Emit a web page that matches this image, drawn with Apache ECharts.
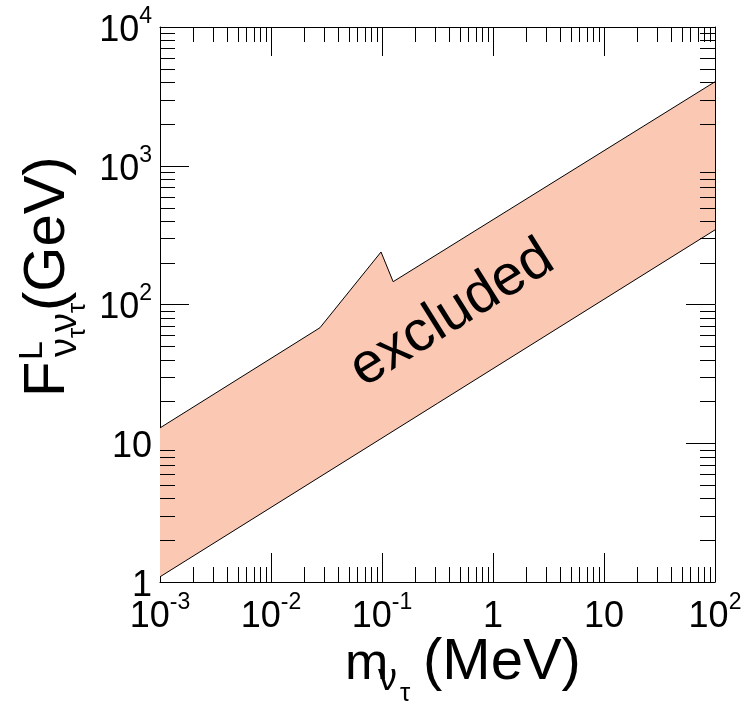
<!DOCTYPE html>
<html><head><meta charset="utf-8">
<script src="https://cdn.jsdelivr.net/npm/echarts@6/dist/echarts.min.js"></script>
<style>html,body{margin:0;padding:0;background:#fff}#c{width:750px;height:706px}</style>
</head><body><div id="c"></div>
<script>
// ---- data ----
const xDecades = [1e-3, 1e-2, 1e-1, 1, 10, 100];
const xTickLabels = [['10','-3'], ['10','-2'], ['10','-1'], ['1',''], ['10',''], ['10','2']];
const yDecades = [1, 10, 100, 1000, 10000];
const yTickLabels = [['1',''], ['10',''], ['10','2'], ['10','3'], ['10','4']];
const minorMultipliers = [2, 3, 4, 5, 6, 7, 8, 9];
const upperX = [1e-3, 0.0276, 0.098, 0.126, 100];
const upperY = [12.9, 68, 239, 146, 4030];
const lowerX = [1e-3, 100];
const lowerY = [1.09, 345];
const bandLabel = 'excluded';

const FONT = '"Liberation Sans", Arial, Helvetica, sans-serif';
const chart = echarts.init(document.getElementById('c'), null, {renderer: 'canvas'});

function labelFor(list, decades, v) {
  let idx = decades.findIndex(d => Math.abs(Math.log10(d) - Math.log10(v)) < 1e-6);
  if (idx < 0) return '';
  const [b, s] = list[idx];
  return s ? '{b|' + b + '}{s|' + s + '}' : '{b|' + b + '}';
}
const richLab = {
  b: {fontSize: 36, fontFamily: FONT, color: '#000', lineHeight: 44, verticalAlign: 'bottom'},
  s: {fontSize: 23, fontFamily: FONT, color: '#000', lineHeight: 44, verticalAlign: 'top'}
};

const axisLineStyle = {show: true, lineStyle: {color: '#000', width: 1}};
const majorTick = {show: true, inside: true, length: 29, lineStyle: {color: '#000', width: 1}};

function xAxisDef(pos, showLabel) {
  return {
    type: 'log', logBase: 10, min: xDecades[0], max: xDecades[xDecades.length - 1],
    position: pos, splitNumber: 5,
    axisLine: axisLineStyle, axisTick: majorTick, splitLine: {show: false},
    axisLabel: {show: showLabel, margin: 9, formatter: v => labelFor(xTickLabels, xDecades, v), rich: richLab}
  };
}
function yAxisDef(pos, showLabel) {
  return {
    type: 'log', logBase: 10, min: yDecades[0], max: yDecades[yDecades.length - 1],
    position: pos, splitNumber: 4,
    axisLine: axisLineStyle, axisTick: majorTick, splitLine: {show: false},
    axisLabel: {show: showLabel, margin: 8, formatter: v => labelFor(yTickLabels, yDecades, v), rich: richLab}
  };
}

function bandRender(params, api) {
  const up = upperX.map((x, i) => api.coord([x, upperY[i]]));
  const lo = lowerX.map((x, i) => api.coord([x, lowerY[i]]));
  const poly = up.concat(lo.slice().reverse());
  return {type: 'group', children: [
    {type: 'polygon', shape: {points: poly}, style: {fill: '#FBC8B4', stroke: null}},
    {type: 'polyline', shape: {points: up}, style: {stroke: '#000', lineWidth: 1, fill: null}},
    {type: 'polyline', shape: {points: lo}, style: {stroke: '#000', lineWidth: 1, fill: null}}
  ]};
}

function minorRender(params, api) {
  const cs = params.coordSys;
  const L = 15, children = [];
  const st = {stroke: '#000', lineWidth: 1};
  for (let i = 0; i < xDecades.length - 1; i++) {
    minorMultipliers.forEach(m => {
      const p = api.coord([xDecades[i] * m, yDecades[0]]);
      const x = Math.round(p[0]) + 0.5;
      children.push({type: 'line', shape: {x1: x, y1: cs.y + cs.height, x2: x, y2: cs.y + cs.height - L}, style: st});
      children.push({type: 'line', shape: {x1: x, y1: cs.y, x2: x, y2: cs.y + L}, style: st});
    });
  }
  for (let i = 0; i < yDecades.length - 1; i++) {
    minorMultipliers.forEach(m => {
      const p = api.coord([xDecades[0], yDecades[i] * m]);
      const y = Math.round(p[1]) + 0.5;
      children.push({type: 'line', shape: {x1: cs.x, y1: y, x2: cs.x + L, y2: y}, style: st});
      children.push({type: 'line', shape: {x1: cs.x + cs.width, y1: y, x2: cs.x + cs.width - L, y2: y}, style: st});
    });
  }
  return {type: 'group', children};
}

function txt(x, baseline, s, fs) {
  return {type: 'text', x: x, y: baseline - 0.8465 * fs, z: 100,
    style: {text: s, fontSize: fs, fontFamily: FONT, fill: '#000', verticalAlign: 'top', align: 'left'}};
}

// x-axis title pieces (screen coords)
const xTitle = {type: 'group', z: 100, children: [
  txt(345, 683, 'm', 52),
  txt(378, 693, 'ν', 38),
  txt(400, 703, 'τ', 26),
  txt(423, 683, '(MeV)', 58)
]};
// y-axis title pieces (local coords, rotated group)
const yTitle = {type: 'group', z: 100, x: 68, y: 397, rotation: Math.PI / 2, children: [
  txt(0, 0, 'F', 58),
  txt(37, -24, 'L', 34),
  txt(40, 11, 'ν', 38),
  txt(59, 19, 'τ', 26),
  txt(65, 11, 'ν', 38),
  txt(84, 19, 'τ', 26),
  txt(86, 0, '(GeV)', 58)
]};

chart.setOption({
  animation: false,
  backgroundColor: '#fff',
  grid: {left: 160, right: 35, top: 27, bottom: 124, containLabel: false},
  xAxis: [xAxisDef('bottom', true), xAxisDef('top', false)],
  yAxis: [yAxisDef('left', true), yAxisDef('right', false)],
  series: [
    {type: 'custom', coordinateSystem: 'cartesian2d', xAxisIndex: 0, yAxisIndex: 0, clip: true,
     renderItem: bandRender, data: [[1e-3, 1]], z: 1, silent: true},
    {type: 'custom', coordinateSystem: 'cartesian2d', xAxisIndex: 0, yAxisIndex: 0,
     renderItem: minorRender, data: [[1e-3, 1]], z: 5, silent: true}
  ],
  graphic: [
    xTitle, yTitle,
    {type: 'text', x: 452, y: 314, z: 100, rotation: 32 * Math.PI / 180,
     style: {text: bandLabel, fontSize: 57, fontFamily: FONT, fill: '#000', align: 'center', verticalAlign: 'middle'}}
  ]
});
</script></body></html>
